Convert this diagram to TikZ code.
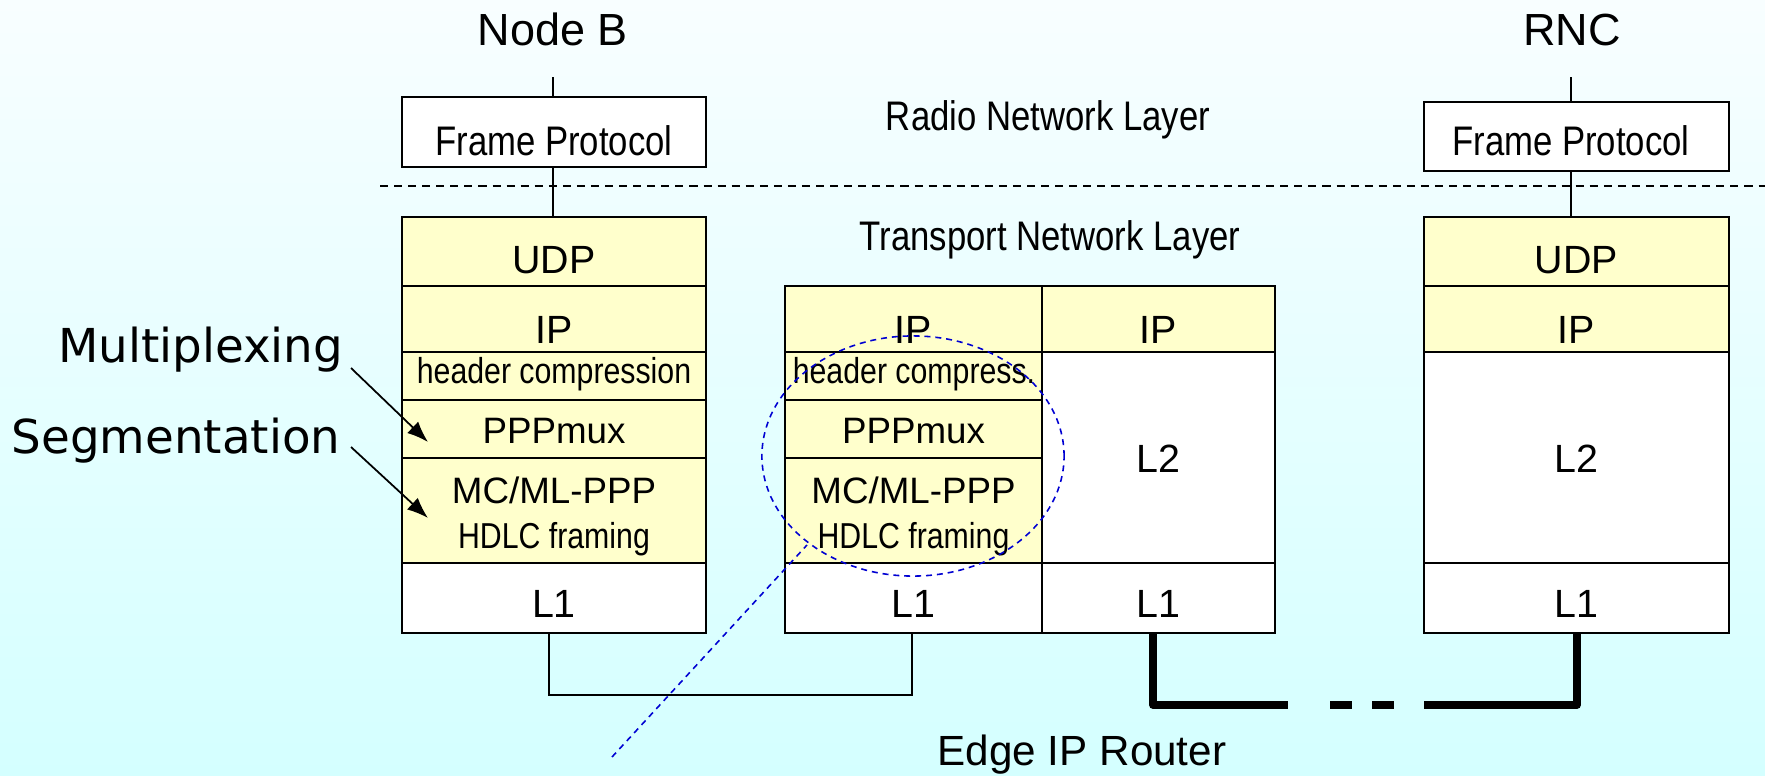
\documentclass[tikz,border=0pt]{standalone}
\usepackage{fontspec}
\usetikzlibrary{fit,shapes.geometric,arrows.meta}
\newfontfamily\arialf{Liberation Sans}
\newfontfamily\narrowf[FakeStretch=0.84]{Liberation Sans}
\newfontfamily\verdf{DejaVu Sans}
\definecolor{bgtop}{RGB}{248,254,255}
\definecolor{bgbot}{RGB}{212,255,255}
\definecolor{cellyel}{RGB}{255,255,204}
\definecolor{hlblue}{RGB}{0,0,210}
\begin{document}
\begin{tikzpicture}[x=0.01cm,y=-0.01cm,
  cell/.style={draw=black,line width=0.57pt,inner sep=0pt},
  yc/.style={cell,fill=cellyel},
  wc/.style={cell,fill=white},
  txt/.style={inner sep=0pt,anchor=base},
  fA/.style={txt,font=\arialf\fontsize{11.2}{13}\selectfont},
  fB/.style={txt,font=\arialf\fontsize{10.45}{12}\selectfont},
  fN/.style={txt,font=\narrowf\fontsize{10.25}{12}\selectfont},
  fF/.style={txt,font=\narrowf\fontsize{11.75}{13}\selectfont},
  fT/.style={txt,font=\arialf\fontsize{12.8}{14}\selectfont},
  fE/.style={txt,font=\arialf\fontsize{12.0}{14}\selectfont},
  fV/.style={txt,font=\verdf\fontsize{13.3}{15}\selectfont},
  conn/.style={line width=0.57pt},
  trunk/.style={line width=2.2pt,line join=round},
  sepline/.style={line width=0.5pt,dash pattern=on 2.3pt off 1.7pt},
  hl/.style={draw=hlblue,line width=0.45pt,dash pattern=on 1.7pt off 1.4pt},
  arr/.style={line width=0.5pt,-{Latex[length=6pt,width=4.5pt]}}
]
\shade[top color=bgtop,bottom color=bgbot] (0,0) rectangle (1765,775);
\useasboundingbox (0,0) rectangle (1765,775);

% headings
\node[fT] (nodeB) at (553,45) {Node B};
\node[fT] (rnc) at (1572,45) {RNC};
\node[fF] (rnl) at (1048,130) {Radio Network Layer};
\node[fF] (tnl) at (1050,250) {Transport Network Layer};
\node[fE] (edge) at (1082,765) {Edge IP Router};

% layer separator
\coordinate (sepL) at (380,186);
\coordinate (sepR) at (1765,186);
\draw[sepline] (sepL) -- (sepR);

% ---------- Node B stack ----------
\node[wc,fit={(402,97)(706,167)}] (fpL) {};
\node[fF] (tfpL) at (554,155) {Frame Protocol};
\node[yc,fit={(402,217)(706,286)}] (udpL) {};
\node[yc,fit={(402,286)(706,352)}] (ipL) {};
\node[yc,fit={(402,352)(706,400)}] (hcL) {};
\node[yc,fit={(402,400)(706,458)}] (muxL) {};
\node[yc,fit={(402,458)(706,563)}] (mcL) {};
\node[wc,fit={(402,563)(706,633)}] (l1L) {};
\node[fA] (tudpL) at (554,273) {UDP};
\node[fA] (tipL) at (554,343) {IP};
\node[fN] (thcL) at (554,383) {header compression};
\node[fB] (tmuxL) at (554,443) {PPPmux};
\node[fB] (tmcL) at (554,503) {MC/ML-PPP};
\node[fN] (thdL) at (554,548) {HDLC framing};
\node[fA] (tl1L) at (554,617) {L1};

\coordinate (topL) at (553,77);
\draw[conn] (topL) -- (topL |- fpL.north);
\draw[conn] (fpL.south -| topL) -- (topL |- udpL.north);

% ---------- Edge router stack ----------
\node[yc,fit={(785,286)(1042,352)}] (ipM1) {};
\node[yc,fit={(785,352)(1042,400)}] (hcM) {};
\node[yc,fit={(785,400)(1042,458)}] (muxM) {};
\node[yc,fit={(785,458)(1042,563)}] (mcM) {};
\node[wc,fit={(785,563)(1042,633)}] (l1M1) {};
\node[yc,fit={(1042,286)(1275,352)}] (ipM2) {};
\node[wc,fit={(1042,352)(1275,563)}] (l2M) {};
\node[wc,fit={(1042,563)(1275,633)}] (l1M2) {};
\node[fA] (tipM1) at (913.5,343) {IP};
\node[fN] (thcM) at (914,383) {header compress.};
\node[fB] (tmuxM) at (913.5,443) {PPPmux};
\node[fB] (tmcM) at (913.5,503) {MC/ML-PPP};
\node[fN] (thdM) at (913.5,548) {HDLC framing};
\node[fA] (tl1M1) at (913.5,617) {L1};
\node[fA] (tipM2) at (1158.5,343) {IP};
\node[fA] (tl2M) at (1158.5,472) {L2};
\node[fA] (tl1M2) at (1158.5,617) {L1};

% ---------- RNC stack ----------
\node[wc,fit={(1424,102)(1729,171)}] (fpR) {};
\node[fF] (tfpR) at (1571,155) {Frame Protocol};
\node[yc,fit={(1424,217)(1729,286)}] (udpR) {};
\node[yc,fit={(1424,286)(1729,352)}] (ipR) {};
\node[wc,fit={(1424,352)(1729,563)}] (l2R) {};
\node[wc,fit={(1424,563)(1729,633)}] (l1R) {};
\node[fA] (tudpR) at (1576.5,273) {UDP};
\node[fA] (tipR) at (1576.5,343) {IP};
\node[fA] (tl2R) at (1576.5,472) {L2};
\node[fA] (tl1R) at (1576.5,617) {L1};

\coordinate (topR) at (1571,77);
\draw[conn] (topR) -- (topR |- fpR.north);
\draw[conn] (fpR.south -| topR) -- (topR |- udpR.north);

% ---------- links ----------
\coordinate (lowA) at (549,695);
\coordinate (lowB) at (912,695);
\draw[conn] (l1L.south -| lowA) -- (lowA) -- (lowB) -- (l1M1.south -| lowB);

\coordinate (tk0) at (1153,705);
\coordinate (tk1) at (1288,705);
\coordinate (tk2) at (1330,705);
\coordinate (tk3) at (1352,705);
\coordinate (tk4) at (1372,705);
\coordinate (tk5) at (1394,705);
\coordinate (tk6) at (1424,705);
\coordinate (tk7) at (1577,705);
\draw[trunk] (l1M2.south -| tk0) -- (tk0) -- (tk1);
\draw[trunk] (tk2) -- (tk3);
\draw[trunk] (tk4) -- (tk5);
\draw[trunk] (tk6) -- (tk7) -- (l1R.south -| tk7);

% ---------- side labels ----------
\node[fV] (mux) at (200.5,362) {Multiplexing};
\node[fV] (seg) at (176,453) {Segmentation};
\coordinate (muxA) at (351,368);
\coordinate (muxB) at (428,442);
\coordinate (segA) at (351,447);
\coordinate (segB) at (428,518);
\draw[arr] (muxA) -- (muxB);
\draw[arr] (segA) -- (segB);

% ---------- highlight ----------
\node[hl,ellipse,minimum width=3.02cm,minimum height=2.4cm,inner sep=0pt] (zoomE) at (913,456) {};
\coordinate (callA) at (612,757);
\coordinate (callB) at (807,545);
\draw[hl] (callA) -- (callB);
\end{tikzpicture}
\end{document}
